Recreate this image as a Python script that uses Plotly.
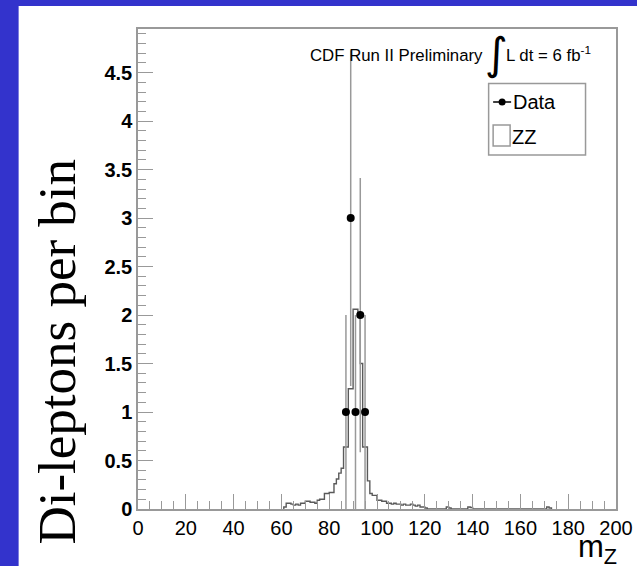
import plotly.graph_objects as go

# ---- data ----
data_mass = [87, 89, 91, 93, 95]
data_count = [1, 3, 1, 2, 1]
data_err = [1.0, 1.732, 1.0, 1.414, 1.0]

zz_first_edge = 61
zz_bin_width = 1
zz_values = [0.02, 0.06, 0.06, 0.05, 0.04, 0.05, 0.04, 0.06, 0.06, 0.08,   # 61-70
             0.08, 0.07, 0.07, 0.06, 0.09, 0.10, 0.10, 0.16, 0.16, 0.17,   # 71-80
             0.17, 0.26, 0.31, 0.37, 0.42, 0.64, 0.64, 1.24, 1.24, 2.06,   # 81-90
             2.06, 1.99, 1.50, 0.64, 0.64, 0.29, 0.16, 0.14, 0.14, 0.09,   # 91-100
             0.09, 0.08, 0.08, 0.06, 0.06, 0.05, 0.06, 0.05, 0.05, 0.04,   # 101-110
             0.05, 0.04, 0.04, 0.05, 0.04, 0.03, 0.04, 0.02, 0.02, 0.01,   # 111-120
             0.00, 0.00, 0.00, 0.00, 0.00, 0.00, 0.00, 0.00, 0.02, 0.01,   # 121-130
             0.00, 0.00, 0.00, 0.00, 0.00, 0.00, 0.00, 0.02, 0.015, 0.00,  # 131-140
             0.00, 0.00, 0.00, 0.00, 0.00, 0.00, 0.00, 0.00, 0.00, 0.00,   # 141-150
             0.00, 0.00, 0.00, 0.00, 0.00, 0.00, 0.00, 0.00, 0.00, 0.00,   # 151-160
             0.00, 0.00, 0.00, 0.00, 0.00, 0.00, 0.00, 0.00, 0.00, 0.00,   # 161-170
             0.02, 0.01]                                                   # 171-172

x_ticks = list(range(0, 201, 20))
y_ticks = [0, 0.5, 1, 1.5, 2, 2.5, 3, 3.5, 4, 4.5]
y_tick_labels = ["0", "0.5", "1", "1.5", "2", "2.5", "3", "3.5", "4", "4.5"]

# ---- geometry helpers (pixel -> paper) ----
W, H = 637, 566
L, R, T, B = 137.5, 616, 29, 509
def px(x):
    return (x - L) / (R - L)
def py(y):
    return (B - y) / (B - T)

# ---- ZZ step outline ----
edges = [zz_first_edge + i * zz_bin_width for i in range(len(zz_values) + 1)]
zx = [edges[0]] + edges
zy = [0] + zz_values + [0]

fig = go.Figure()
fig.add_trace(go.Scatter(x=zx, y=zy, mode="lines", line=dict(color="#5a5a5a", width=1.4, shape="hv"),
                         showlegend=False, hoverinfo="skip"))
fig.add_trace(go.Scatter(x=data_mass, y=data_count, mode="markers",
                         marker=dict(color="black", size=8),
                         error_y=dict(type="data", array=data_err, visible=True, width=0,
                                      color="#999999", thickness=1.5),
                         showlegend=False))

grey = "#999999"
fig.update_xaxes(range=[0, 200], tickvals=x_ticks, ticks="inside", ticklen=15, tickcolor=grey,
                 tickwidth=1, showline=True, linecolor=grey, linewidth=1.5, mirror=True,
                 showgrid=False, zeroline=False, automargin=False,
                 minor=dict(ticks="inside", ticklen=8, dtick=5, tickcolor=grey, tickwidth=1),
                 tickfont=dict(family="Liberation Sans, Arial", size=20, color="black"))
fig.update_yaxes(range=[0, 4.95], tickvals=y_ticks, ticktext=y_tick_labels, ticks="inside", ticklen=15,
                 tickcolor=grey, tickwidth=1, showline=True, linecolor=grey, linewidth=1.5, mirror=True,
                 showgrid=False, zeroline=False, automargin=False,
                 minor=dict(ticks="inside", ticklen=8, dtick=0.1, tickcolor=grey, tickwidth=1),
                 tickfont=dict(family="Liberation Sans, Arial", size=20, color="black", weight="bold"))

blue = "#3333cc"
shapes = [
    # blue frame strips (left and top)
    dict(type="rect", xref="paper", yref="paper", x0=px(-10), x1=px(18), y0=py(-10), y1=py(580),
         fillcolor=blue, line=dict(width=0), layer="below"),
    dict(type="rect", xref="paper", yref="paper", x0=px(-10), x1=px(650), y0=py(-10), y1=py(6),
         fillcolor=blue, line=dict(width=0), layer="below"),
    # legend box
    dict(type="rect", xref="paper", yref="paper", x0=px(488.5), x1=px(585.5), y0=py(83.5), y1=py(155),
         fillcolor="white", line=dict(color=grey, width=1.5)),
    # Data legend symbol
    dict(type="line", xref="paper", yref="paper", x0=px(493), x1=px(511), y0=py(102), y1=py(102),
         line=dict(color="black", width=1.5)),
    dict(type="circle", xref="paper", yref="paper", x0=px(498.5), x1=px(505.5), y0=py(98.5), y1=py(105.5),
         fillcolor="black", line=dict(color="black", width=0)),
    # ZZ legend symbol
    dict(type="rect", xref="paper", yref="paper", x0=px(493), x1=px(510), y0=py(125), y1=py(146),
         fillcolor="white", line=dict(color=grey, width=1.5)),
]

annotations = [
    dict(text="Di-leptons per bin", xref="paper", yref="paper", x=px(56), y=py(352),
         xanchor="center", yanchor="middle", textangle=-90, showarrow=False,
         font=dict(family="Liberation Serif, Times New Roman", size=53, color="black")),
    dict(text="m<sub>Z</sub>", xref="paper", yref="paper", x=px(619), y=py(571),
         xanchor="right", yanchor="bottom", showarrow=False,
         font=dict(family="Liberation Sans, Arial", size=31, color="black")),
    dict(text="CDF Run II Preliminary", xref="paper", yref="paper", x=px(308), y=py(55),
         xanchor="left", yanchor="middle", showarrow=False,
         font=dict(family="Liberation Sans, Arial", size=16.8, color="black")),
    dict(text="\u222b", xref="paper", yref="paper", x=px(496), y=py(53),
         xanchor="center", yanchor="middle", showarrow=False,
         font=dict(family="DejaVu Sans", size=44, color="black")),
    dict(text="L dt = 6 fb<sup>-1</sup>", xref="paper", yref="paper", x=px(504), y=py(54),
         xanchor="left", yanchor="middle", showarrow=False,
         font=dict(family="Liberation Sans, Arial", size=16.8, color="black")),
    dict(text="Data", xref="paper", yref="paper", x=px(511), y=py(102),
         xanchor="left", yanchor="middle", showarrow=False,
         font=dict(family="Liberation Sans, Arial", size=20, color="black")),
    dict(text="ZZ", xref="paper", yref="paper", x=px(510), y=py(137),
         xanchor="left", yanchor="middle", showarrow=False,
         font=dict(family="Liberation Sans, Arial", size=20, color="black")),
]

fig.update_layout(width=W, height=H, margin=dict(l=L, r=W - R, t=T, b=H - B, autoexpand=False),
                  paper_bgcolor="white", plot_bgcolor="white",
                  shapes=shapes, annotations=annotations, showlegend=False)

fig.write_html("out.html")
